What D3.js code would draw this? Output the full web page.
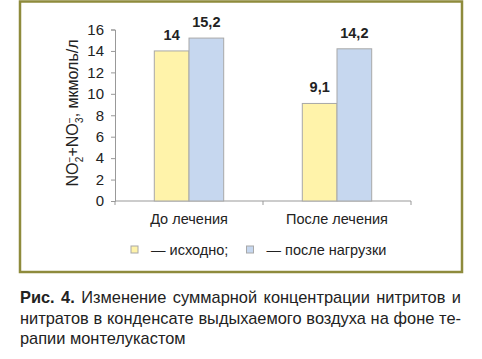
<!DOCTYPE html>
<html><head><meta charset="utf-8">
<script src="https://cdn.jsdelivr.net/npm/d3@7"></script>
<style>
body{margin:0;background:#fff;font-family:"Liberation Sans",Arial,sans-serif;}
#cap{position:absolute;left:20px;top:287px;width:441px;font-size:16.4px;line-height:20.5px;color:#222;}
#cap div{white-space:nowrap;}
#cap .j{text-align:justify;text-align-last:justify;}
</style></head><body>
<svg id="c" width="482" height="280" style="position:absolute;left:0;top:0"></svg>
<div id="cap"></div>
<script>
const categories = ["До лечения", "После лечения"];
const seriesNames = ["— исходно;", "— после нагрузки"];
const baseline = [14, 9.1];
const afterLoad = [15.2, 14.2];
const valueLabels = [["14", "15,2"], ["9,1", "14,2"]];
const yTicks = [0, 2, 4, 6, 8, 10, 12, 14, 16];
const captionLines = [
  ["Рис. 4.", " Изменение суммарной концентрации нитритов и"],
  ["", "нитратов в конденсате выдыхаемого воздуха на фоне те-"],
  ["", "рапии монтелукастом"]
];
const colors = ["#FFF3AA", "#C6D7EF"];

const svg = d3.select("#c");
svg.append("rect").attr("x", 20).attr("y", 1.5).attr("width", 442).attr("height", 270.5)
  .attr("fill", "none").attr("stroke", "#8E8B3C").attr("stroke-width", 2.5);

const y = d3.scaleLinear().domain([0, 16]).range([201, 29.5]);
const x = d3.scaleBand().domain(categories).range([115, 411]);
const x1 = d3.scaleBand().domain([0, 1]).range([39.3, 108.7]);

const axisColor = "#999";
const ya = svg.append("g").attr("transform", "translate(115,0)")
  .call(d3.axisLeft(y).tickValues(yTicks).tickSize(4).tickPadding(7));
ya.selectAll("path,line").attr("stroke", axisColor);
ya.selectAll("text").attr("font-size", 15).attr("fill", "#222")
  .attr("font-family", "Liberation Sans, Arial, sans-serif");

// x axis
const xg = svg.append("g");
xg.append("line").attr("x1", 115).attr("x2", 411).attr("y1", y(0)).attr("y2", y(0)).attr("stroke", axisColor);
const bounds = categories.map(c => x(c)).concat([x(categories[1]) + x.bandwidth()]);
xg.selectAll("line.t").data(bounds).join("line").attr("class", "t")
  .attr("x1", d => d).attr("x2", d => d).attr("y1", y(0)).attr("y2", y(0) + 4).attr("stroke", axisColor);
xg.selectAll("text").data(categories).join("text")
  .attr("x", d => x(d) + x.bandwidth() / 2).attr("y", 224)
  .attr("text-anchor", "middle").attr("font-size", 14.5).attr("fill", "#222").text(d => d);

// bars
const data = categories.map((c, i) => ({c, vals: [baseline[i], afterLoad[i]], labels: valueLabels[i]}));
const g = svg.selectAll("g.grp").data(data).join("g").attr("class", "grp")
  .attr("transform", d => `translate(${x(d.c)},0)`);
g.selectAll("rect").data(d => d.vals).join("rect")
  .attr("x", (v, j) => x1(j)).attr("width", x1.bandwidth())
  .attr("y", v => y(v)).attr("height", v => y(0) - y(v))
  .attr("fill", (v, j) => colors[j]).attr("stroke", "#A8A8A8").attr("stroke-width", 1);
g.selectAll("text").data(d => d.vals.map((v, j) => ({v, l: d.labels[j], j}))).join("text")
  .attr("x", d => x1(d.j) + x1.bandwidth() / 2).attr("y", d => y(d.v) - 11)
  .attr("text-anchor", "middle").attr("font-size", 14.5).attr("font-weight", "bold").attr("fill", "#222")
  .text(d => d.l);

// y title
const yt = svg.append("text").attr("transform", "translate(78,113) rotate(-90)")
  .attr("text-anchor", "middle").attr("font-size", 16).attr("fill", "#222");
yt.append("tspan").text("NO");
yt.append("tspan").attr("font-size", 10).attr("dy", -5).text("−");
yt.append("tspan").attr("font-size", 10).attr("dx", -5.5).attr("dy", 10).text("2");
yt.append("tspan").attr("dy", -5).text("+NO");
yt.append("tspan").attr("font-size", 10).attr("dy", -5).text("−");
yt.append("tspan").attr("font-size", 10).attr("dx", -5.5).attr("dy", 10).text("3");
yt.append("tspan").attr("dy", -5).text(", мкмоль/л");

// legend
const legX = [131, 246.5];
const lg = svg.selectAll("g.leg").data(seriesNames).join("g").attr("class", "leg")
  .attr("transform", (d, i) => `translate(${legX[i]},246)`);
lg.append("rect").attr("width", 7).attr("height", 7).attr("fill", (d, i) => colors[i]).attr("stroke", "#A8A8A8");
lg.append("text").attr("x", 20).attr("y", 8.5).attr("font-size", 14.5).attr("fill", "#222").text(d => d);

// caption
const cap = d3.select("#cap");
captionLines.forEach((l, i) => {
  const d = cap.append("div").attr("class", i < 2 ? "j" : "");
  if (l[0]) d.append("b").text(l[0]);
  d.append("span").text(l[1]);
});
</script></body></html>
